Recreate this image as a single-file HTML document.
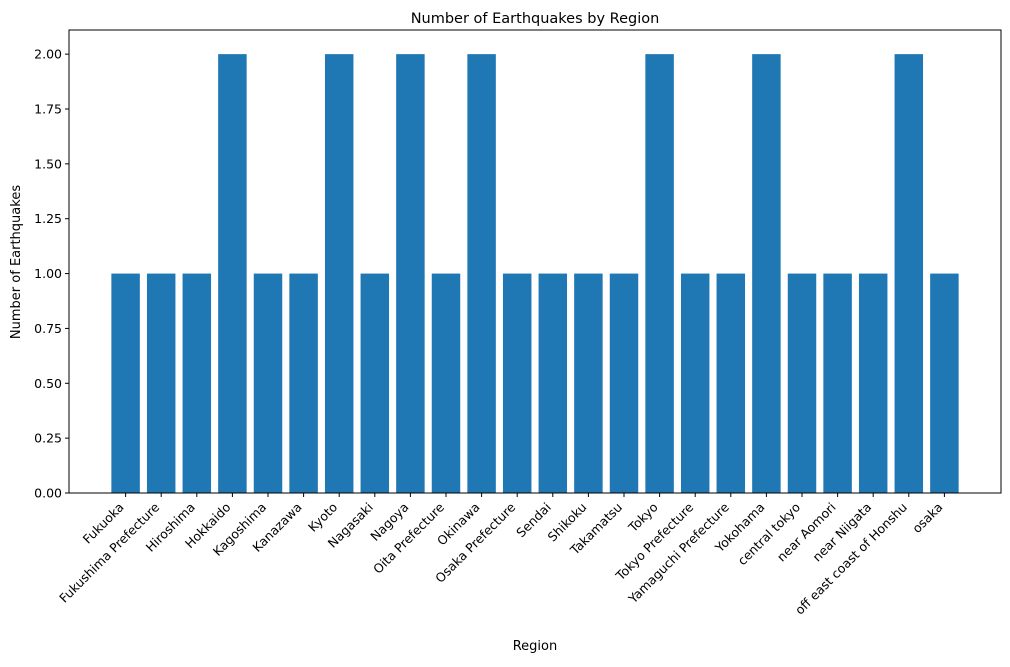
<!DOCTYPE html>
<html><head><meta charset="utf-8"><style>
body{margin:0;background:#fff;font-family:"Liberation Sans","DejaVu Sans",sans-serif;}
svg text{font-family:"DejaVu Sans","Liberation Sans",sans-serif;}
</style></head><body>
<svg id="chart" width="1010" height="662" xmlns="http://www.w3.org/2000/svg">
<rect width="1010" height="662" fill="#fff"/>
<text x="535" y="23" font-size="14.5" text-anchor="middle" fill="#000">Number of Earthquakes by Region</text>
<text x="535" y="650" font-size="13" text-anchor="middle">Region</text>
<text x="0" y="0" font-size="13" text-anchor="middle" transform="translate(20,262) rotate(-90)">Number of Earthquakes</text>
<g id="bars"></g><g id="xticks"></g><g id="yticks"></g>
<rect x="69" y="30" width="932" height="463" fill="none" stroke="#000" stroke-width="1"/>
</svg>
<script>
const categories=["Fukuoka","Fukushima Prefecture","Hiroshima","Hokkaido","Kagoshima","Kanazawa","Kyoto","Nagasaki","Nagoya","Oita Prefecture","Okinawa","Osaka Prefecture","Sendai","Shikoku","Takamatsu","Tokyo","Tokyo Prefecture","Yamaguchi Prefecture","Yokohama","central tokyo","near Aomori","near Niigata","off east coast of Honshu","osaka"];
const counts=[1,1,1,2,1,1,2,1,2,1,2,1,1,1,1,2,1,1,2,1,1,1,2,1];
const yTicks=[0,0.25,0.5,0.75,1.0,1.25,1.5,1.75,2.0];
const yTickLabels=["0.00","0.25","0.50","0.75","1.00","1.25","1.50","1.75","2.00"];
const NS="http://www.w3.org/2000/svg";
const L=69,R=1001,T=30,B=493;
const n=categories.length;
const yMax=Math.max(...counts)*1.055;
const x0=-0.4-0.05*(n-1+0.8),x1=n-1+0.4+0.05*(n-1+0.8);
const xs=v=>L+(v-x0)/(x1-x0)*(R-L);
const ys=v=>B-v/yMax*(B-T);
const bw=xs(0.8)-xs(0);
const gb=document.getElementById('bars'),gx=document.getElementById('xticks'),gy=document.getElementById('yticks');
function mk(t,a,p){const e=document.createElementNS(NS,t);for(const k in a)e.setAttribute(k,a[k]);p.appendChild(e);return e;}
counts.forEach((c,i)=>{
 const r=mk('rect',{x:xs(i)-bw/2,y:ys(c),width:bw,height:ys(0)-ys(c),fill:'#1f77b4'},gb);
 
 
 const cx=xs(i);
 mk('line',{x1:cx,x2:cx,y1:B,y2:B+4,stroke:'#000'},gx);
 const t=mk('text',{x:0,y:0,'font-size':12.5,'text-anchor':'end',transform:`translate(${cx-1},${B+15}) rotate(-45)`},gx);
 t.textContent=categories[i];
 
 
});
yTicks.forEach((v,i)=>{
 const y=ys(v);
 mk('line',{x1:L-4,x2:L,y1:y,y2:y,stroke:'#000'},gy);
 const t=mk('text',{x:L-7,y:y+4.5,'font-size':12.5,'text-anchor':'end'},gy);
 t.textContent=yTickLabels[i];
 
 
});
</script>
</body></html>
